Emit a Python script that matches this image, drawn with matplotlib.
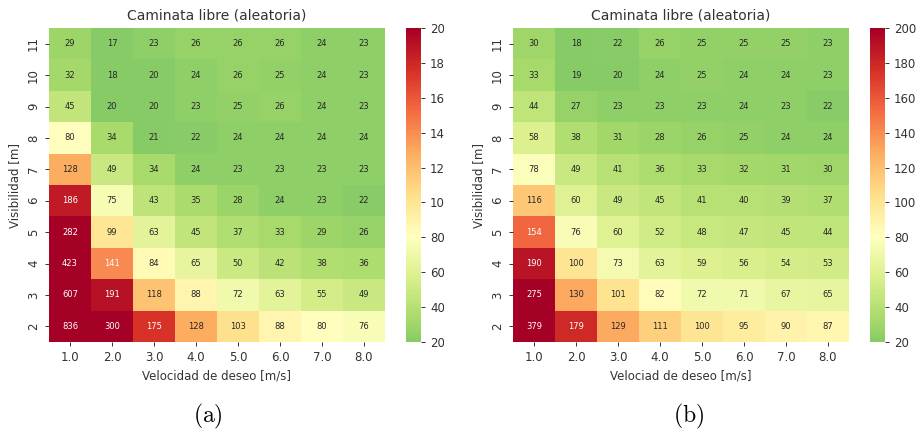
import numpy as np
import matplotlib
matplotlib.use("Agg")
import matplotlib.pyplot as plt
import seaborn as sns
from matplotlib.transforms import Bbox, TransformedBbox

# desired speed (columns) and visibility (rows, top to bottom)
velocidades = ["1.0", "2.0", "3.0", "4.0", "5.0", "6.0", "7.0", "8.0"]
visibilidades = ["11", "10", "9", "8", "7", "6", "5", "4", "3", "2"]

# left panel
tiempos_a = [
    [29, 17, 23, 26, 26, 26, 24, 23],
    [32, 18, 20, 24, 26, 25, 24, 23],
    [45, 20, 20, 23, 25, 26, 24, 23],
    [80, 34, 21, 22, 24, 24, 24, 24],
    [128, 49, 34, 24, 23, 23, 23, 23],
    [186, 75, 43, 35, 28, 24, 23, 22],
    [282, 99, 63, 45, 37, 33, 29, 26],
    [423, 141, 84, 65, 50, 42, 38, 36],
    [607, 191, 118, 88, 72, 63, 55, 49],
    [836, 300, 175, 128, 103, 88, 80, 76],
]

# right panel
tiempos_b = [
    [30, 18, 22, 26, 25, 25, 25, 23],
    [33, 19, 20, 24, 25, 24, 24, 23],
    [44, 27, 23, 23, 23, 24, 23, 22],
    [58, 38, 31, 28, 26, 25, 24, 24],
    [78, 49, 41, 36, 33, 32, 31, 30],
    [116, 60, 49, 45, 41, 40, 39, 37],
    [154, 76, 60, 52, 48, 47, 45, 44],
    [190, 100, 73, 63, 59, 56, 54, 53],
    [275, 130, 101, 82, 72, 71, 67, 65],
    [379, 179, 129, 111, 100, 95, 90, 87],
]

xlabels = ["Velocidad de deseo [m/s]", "Velociad de deseo [m/s]"]
captions = ["(a)", "(b)"]
cbar_ticks = [20, 40, 60, 80, 100, 120, 140, 160, 180, 200]

txt = "#333333"
plt.rcParams["text.color"] = txt
plt.rcParams["axes.labelcolor"] = txt
plt.rcParams["xtick.color"] = txt
plt.rcParams["ytick.color"] = txt
plt.rcParams["mathtext.fontset"] = "cm"

W, H = 920, 433
fig = plt.figure(figsize=(W / 100, H / 100), dpi=100)

def px(x0, y0, x1, y1):
    return [x0 / W, 1 - y1 / H, (x1 - x0) / W, (y1 - y0) / H]

paneles = [
    (tiempos_a, px(49, 28, 385, 342), px(406, 28, 421, 342), 208),
    (tiempos_b, px(513, 28, 849, 342), px(870, 28, 885, 342), 689),
]

cbars = []
for i, (datos, pos_ax, pos_cb, cap_x) in enumerate(paneles):
    ax = fig.add_axes(pos_ax)
    cax = fig.add_axes(pos_cb)
    sns.heatmap(np.array(datos), ax=ax, cbar_ax=cax, cmap="RdYlGn_r",
                vmin=20, vmax=200, center=80, annot=True, fmt="d",
                annot_kws={"size": 6},
                xticklabels=velocidades, yticklabels=visibilidades,
                cbar_kws={"ticks": cbar_ticks})
    ax.set_title("Caminata libre (aleatoria)", fontsize=10)
    ax.set_xlabel(xlabels[i], fontsize=8.5)
    ax.set_ylabel("Visibilidad [m]", fontsize=8.5)
    ax.tick_params(labelsize=8.5, length=3, width=0.7)
    cax.tick_params(labelsize=8.5, length=3, width=0.7)
    for s in cax.spines.values():
        s.set_visible(False)
    fig.text(cap_x / W, 1 - 416 / H, r"$\mathrm{(%s)}$" % captions[i][1],
             ha="center", va="center", fontsize=17, color="black")
    cbars.append(cax)

# the left colour bar labels run into the neighbouring panel and get cut there
fig.canvas.draw()
clip = TransformedBbox(Bbox.from_extents(0, 0, 444 / W, 1), fig.transFigure)
for lab in cbars[0].get_yticklabels():
    lab.set_clip_box(clip)
    lab.set_clip_on(True)

fig.savefig("out.png", dpi=100)
